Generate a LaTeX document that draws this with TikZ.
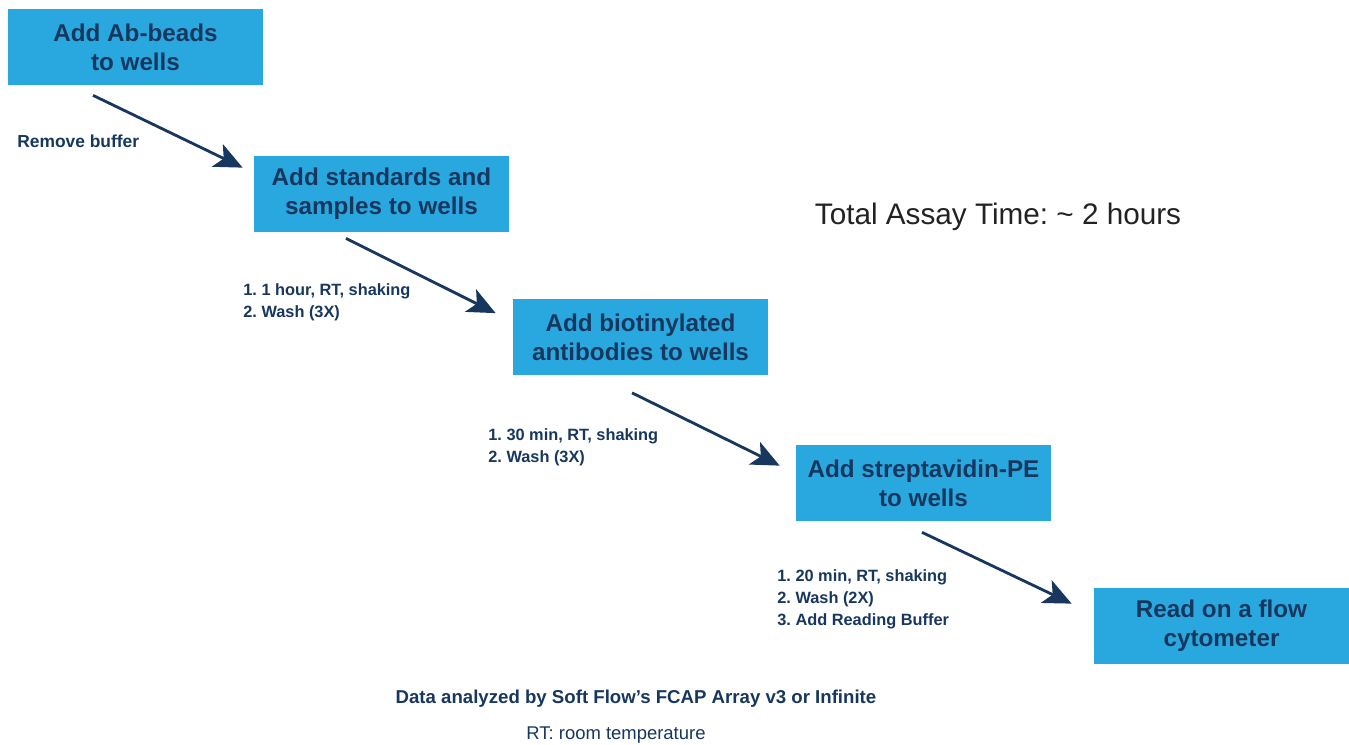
\documentclass[tikz,border=0pt]{standalone}
\usepackage{fontspec}
\setmainfont{Liberation Sans}
\usepackage{tikz}
\usetikzlibrary{arrows.meta}
\definecolor{boxblue}{HTML}{29A8E0}
\definecolor{navy}{HTML}{17375E}
\definecolor{darkgray}{HTML}{222222}

\begin{document}
\frenchspacing
\begin{tikzpicture}[
  stepbox/.style={fill=boxblue, minimum width=5.1cm, minimum height=1.52cm,
    inner sep=0pt, align=center, text=navy,
    font=\fontsize{13.8}{16.5}\selectfont\bfseries},
  note/.style={anchor=west, inner sep=0pt, align=left, text=navy,
    font=\fontsize{9.3}{12.5}\selectfont\bfseries},
  flow/.style={-{Stealth[length=0.56cm,width=0.5cm,inset=0.14cm]}, line width=1.6pt, navy}]
\useasboundingbox (0,0) rectangle (26.98,14.9);
% steps
\node[stepbox] (beads) at (2.71,13.96) {Add Ab-beads\\to wells};
\node[stepbox] (std) at (7.63,11.02) {Add standards and\\samples to wells};
\node[stepbox] (bio) at (12.81,8.15) {Add biotinylated\\antibodies to wells};
\node[stepbox] (sav) at (18.47,5.24) {Add streptavidin-PE\\to wells};
\node[stepbox] (read) at (24.43,2.38) {Read on a flow\\cytometer};
% arrows between steps
\draw[flow] ([xshift=-0.85cm,yshift=-0.2cm]beads.south) -- ([xshift=-0.22cm,yshift=-0.24cm]std.north west);
\draw[flow] ([xshift=-0.71cm,yshift=-0.12cm]std.south) -- ([xshift=-0.34cm,yshift=-0.28cm]bio.north west);
\draw[flow] ([xshift=-0.17cm,yshift=-0.34cm]bio.south) -- ([xshift=-0.32cm,yshift=-0.42cm]sav.north west);
\draw[flow] ([xshift=-0.03cm,yshift=-0.22cm]sav.south) -- ([xshift=-0.44cm,yshift=-0.32cm]read.north west);
% conditions
\node[note, font=\fontsize{9.9}{12}\selectfont\bfseries] (rm) at (0.34,12.07) {Remove buffer};
\node[note] (inc1) at (4.86,8.86) {1. 1 hour, RT, shaking\\2. Wash (3X)};
\node[note] (inc2) at (9.76,5.95) {1. 30 min, RT, shaking\\2. Wash (3X)};
\node[note] (inc3) at (15.54,2.92) {1. 20 min, RT, shaking\\2. Wash (2X)\\3. Add Reading Buffer};
% notes
\node[text=darkgray, font=\fontsize{16.9}{20}\selectfont] (total) at (19.96,10.56) {Total Assay Time: \textasciitilde{} 2 hours};
\node[text=navy, font=\fontsize{10.6}{12}\selectfont\bfseries] (soft) at (12.72,0.92) {Data analyzed by Soft Flow’s FCAP Array v3 or Infinite};
\node[text=navy, font=\fontsize{10.5}{12}\selectfont] (rt) at (12.32,0.19) {RT: room temperature};
\end{tikzpicture}
\end{document}
